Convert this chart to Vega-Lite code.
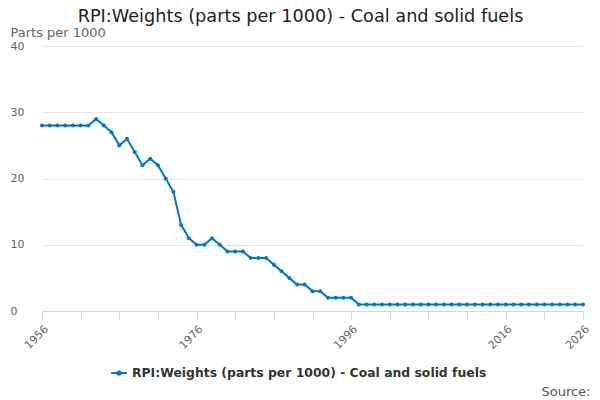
{
  "$schema": "https://vega.github.io/schema/vega-lite/v6.json",
  "description": "RPI weights, coal and solid fuels, parts per 1000",
  "autosize": "none",
  "width": 541,
  "height": 265,
  "padding": {"left": 42, "top": 46, "right": 17, "bottom": 89},
  "title": {
    "text": "RPI:Weights (parts per 1000) - Coal and solid fuels",
    "anchor": "middle",
    "dx": -12,
    "offset": 0,
    "font": "DejaVu Sans",
    "fontSize": 17.7,
    "fontWeight": "normal",
    "color": "#222222"
  },
  "config": {
    "font": "DejaVu Sans",
    "view": {"stroke": null}
  },
  "data": {
    "values": [
      {"year": 1956, "weight": 28}, {"year": 1957, "weight": 28}, {"year": 1958, "weight": 28},
      {"year": 1959, "weight": 28}, {"year": 1960, "weight": 28}, {"year": 1961, "weight": 28},
      {"year": 1962, "weight": 28}, {"year": 1963, "weight": 29}, {"year": 1964, "weight": 28},
      {"year": 1965, "weight": 27}, {"year": 1966, "weight": 25}, {"year": 1967, "weight": 26},
      {"year": 1968, "weight": 24}, {"year": 1969, "weight": 22}, {"year": 1970, "weight": 23},
      {"year": 1971, "weight": 22}, {"year": 1972, "weight": 20}, {"year": 1973, "weight": 18},
      {"year": 1974, "weight": 13}, {"year": 1975, "weight": 11}, {"year": 1976, "weight": 10},
      {"year": 1977, "weight": 10}, {"year": 1978, "weight": 11}, {"year": 1979, "weight": 10},
      {"year": 1980, "weight": 9}, {"year": 1981, "weight": 9}, {"year": 1982, "weight": 9},
      {"year": 1983, "weight": 8}, {"year": 1984, "weight": 8}, {"year": 1985, "weight": 8},
      {"year": 1986, "weight": 7}, {"year": 1987, "weight": 6}, {"year": 1988, "weight": 5},
      {"year": 1989, "weight": 4}, {"year": 1990, "weight": 4}, {"year": 1991, "weight": 3},
      {"year": 1992, "weight": 3}, {"year": 1993, "weight": 2}, {"year": 1994, "weight": 2},
      {"year": 1995, "weight": 2}, {"year": 1996, "weight": 2}, {"year": 1997, "weight": 1},
      {"year": 1998, "weight": 1}, {"year": 1999, "weight": 1}, {"year": 2000, "weight": 1},
      {"year": 2001, "weight": 1}, {"year": 2002, "weight": 1}, {"year": 2003, "weight": 1},
      {"year": 2004, "weight": 1}, {"year": 2005, "weight": 1}, {"year": 2006, "weight": 1},
      {"year": 2007, "weight": 1}, {"year": 2008, "weight": 1}, {"year": 2009, "weight": 1},
      {"year": 2010, "weight": 1}, {"year": 2011, "weight": 1}, {"year": 2012, "weight": 1},
      {"year": 2013, "weight": 1}, {"year": 2014, "weight": 1}, {"year": 2015, "weight": 1},
      {"year": 2016, "weight": 1}, {"year": 2017, "weight": 1}, {"year": 2018, "weight": 1},
      {"year": 2019, "weight": 1}, {"year": 2020, "weight": 1}, {"year": 2021, "weight": 1},
      {"year": 2022, "weight": 1}, {"year": 2023, "weight": 1}, {"year": 2024, "weight": 1},
      {"year": 2025, "weight": 1}, {"year": 2026, "weight": 1}
    ]
  },
  "mark": {
    "type": "line",
    "strokeWidth": 2,
    "point": {"filled": true, "size": 16}
  },
  "encoding": {
    "x": {
      "field": "year",
      "type": "quantitative",
      "scale": {"domain": [1956, 2026], "nice": false, "zero": false},
      "axis": {
        "title": "Source:",
        "titleAnchor": "end",
        "titleAlign": "right",
        "titleBaseline": "alphabetic",
        "titleX": 548,
        "titleY": 84,
        "titleFontSize": 13,
        "titleFontWeight": "normal",
        "titleColor": "#555555",
        "values": [1956, 1961, 1966, 1971, 1976, 1981, 1986, 1991, 1996, 2001, 2006, 2011, 2016, 2021, 2026],
        "labelExpr": "(datum.value - 1956) % 20 == 0 || datum.value == 2026 ? format(datum.value, 'd') : ''",
        "labelAngle": -45,
        "labelFontSize": 11,
        "labelColor": "#666666",
        "labelPadding": 4,
        "labelOverlap": false,
        "labelBound": false,
        "labelFlush": false,
        "grid": false,
        "domainColor": "#ccd6eb",
        "tickColor": "#ccd6eb",
        "tickSize": 8
      }
    },
    "y": {
      "field": "weight",
      "type": "quantitative",
      "scale": {"domain": [0, 40], "nice": false},
      "axis": {
        "title": "Parts per 1000",
        "titleAngle": 0,
        "titleAlign": "left",
        "titleBaseline": "middle",
        "titleX": -32,
        "titleY": -14,
        "titleFontSize": 13,
        "titleFontWeight": "normal",
        "titleColor": "#666666",
        "values": [0, 10, 20, 30, 40],
        "labelAlign": "left",
        "labelPadding": 32,
        "labelFontSize": 11,
        "labelColor": "#666666",
        "ticks": false,
        "tickSize": 0,
        "domain": false,
        "gridColor": "#e6e6e6"
      }
    },
    "color": {
      "datum": "RPI:Weights (parts per 1000) - Coal and solid fuels",
      "type": "nominal",
      "scale": {"range": ["#0077c8"]},
      "legend": {
        "title": null,
        "orient": "none",
        "legendX": 68,
        "legendY": 318,
        "symbolType": "M-1,0H1M-0.2,0A0.2,0.2 0 1,1 0.2,0A0.2,0.2 0 1,1 -0.2,0",
        "symbolSize": 250,
        "symbolStrokeWidth": 2,
        "symbolFillColor": "#0077c8",
        "labelFontSize": 12.4,
        "labelFontWeight": "bold",
        "labelColor": "#333333",
        "labelLimit": 500
      }
    }
  }
}
